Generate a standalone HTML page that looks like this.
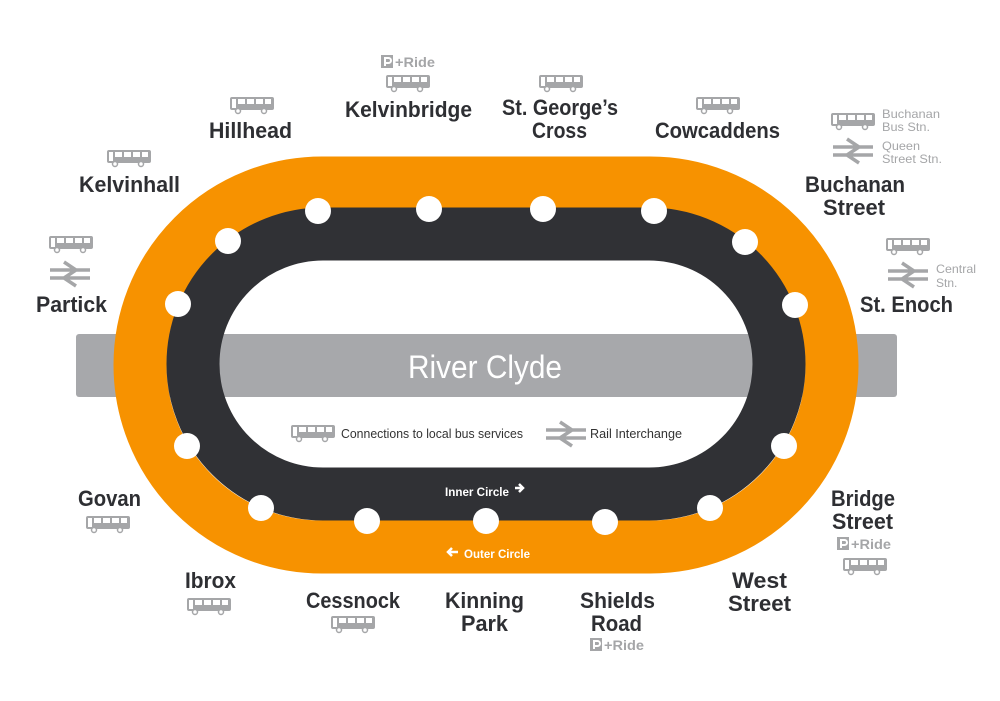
<!DOCTYPE html>
<html><head><meta charset="utf-8"><style>
html,body{margin:0;padding:0;background:#fff;}
svg{display:block;}
.l{font-family:"Liberation Sans",sans-serif;font-weight:bold;font-size:22px;fill:#2e2f33;text-anchor:middle;}
.g{font-family:"Liberation Sans",sans-serif;font-size:12px;fill:#a5a6a8;}
.pr{font-family:"Liberation Sans",sans-serif;font-size:14px;fill:#a5a6a8;font-weight:bold;}
</style></head><body>
<svg width="1000" height="701" viewBox="0 0 1000 701" xmlns="http://www.w3.org/2000/svg">
<defs>
<g id="bus">
<rect x="1" y="1" width="44" height="13" rx="2" fill="#a5a6a8"/>
<rect x="3" y="3" width="4" height="9" fill="#fff"/>
<rect x="9" y="3" width="7" height="5" fill="#fff"/>
<rect x="18" y="3" width="7" height="5" fill="#fff"/>
<rect x="27" y="3" width="7" height="5" fill="#fff"/>
<rect x="36" y="3" width="6" height="5" fill="#fff"/>
<circle cx="9" cy="15" r="2.5" fill="#fff" stroke="#a5a6a8" stroke-width="1.5"/>
<circle cx="35" cy="15" r="2.5" fill="#fff" stroke="#a5a6a8" stroke-width="1.5"/>
</g>
<g id="rail" fill="none" stroke="#a5a6a8" stroke-width="3.5">
<path d="M0 9 H40 M0 17 H40 M14 1 L26 9 L14 17 L26 25"/>
</g>
<g id="pr">
<rect x="0" y="0" width="12" height="13" fill="#a5a6a8"/>
<path d="M4 11 V3 H7.5 a2.5 2.5 0 0 1 0 5 H4" fill="none" stroke="#fff" stroke-width="2"/>
<text x="14" y="12" class="pr" textLength="40" lengthAdjust="spacingAndGlyphs">+Ride</text>
</g>
</defs>

<rect x="76" y="334" width="821" height="63" rx="3" fill="#a7a8ab"/>
<rect x="140" y="183" width="692" height="364" rx="182" fill="none" stroke="#f79200" stroke-width="53"/>
<rect x="193" y="234" width="586" height="260" rx="130" fill="none" stroke="#303135" stroke-width="53"/>

<text x="408" y="378" font-family="Liberation Sans, sans-serif" font-size="32" fill="#fff" textLength="154" lengthAdjust="spacingAndGlyphs">River Clyde</text>

<g fill="#fff">
<circle cx="318" cy="211" r="13"/><circle cx="429" cy="209" r="13"/><circle cx="543" cy="209" r="13"/><circle cx="654" cy="211" r="13"/>
<circle cx="745" cy="242" r="13"/><circle cx="795" cy="305" r="13"/><circle cx="784" cy="446" r="13"/><circle cx="710" cy="508" r="13"/>
<circle cx="605" cy="522" r="13"/><circle cx="486" cy="521" r="13"/><circle cx="367" cy="521" r="13"/><circle cx="261" cy="508" r="13"/>
<circle cx="187" cy="446" r="13"/><circle cx="178" cy="304" r="13"/><circle cx="228" cy="241" r="13"/>
</g>

<text x="445" y="496" font-family="Liberation Sans, sans-serif" font-weight="bold" font-size="12" fill="#fff" textLength="64" lengthAdjust="spacingAndGlyphs">Inner Circle</text>
<path d="M515 488 h8 M519 484 l4 4 l-4 4" stroke="#fff" stroke-width="2.5" fill="none"/>
<path d="M458 552 h-10 M452 548 l-4 4 l4 4" stroke="#fff" stroke-width="2.5" fill="none"/>
<text x="464" y="558" font-family="Liberation Sans, sans-serif" font-weight="bold" font-size="12" fill="#fff" textLength="66" lengthAdjust="spacingAndGlyphs">Outer Circle</text>

<use href="#bus" x="290" y="424"/>
<text x="341" y="438" font-family="Liberation Sans, sans-serif" font-size="13" fill="#333" textLength="182" lengthAdjust="spacingAndGlyphs">Connections to local bus services</text>
<use href="#rail" x="546" y="421"/>
<text x="590" y="438" font-family="Liberation Sans, sans-serif" font-size="13" fill="#333" textLength="92" lengthAdjust="spacingAndGlyphs">Rail Interchange</text>

<use href="#pr" x="381" y="55"/>
<use href="#bus" x="385" y="74"/>
<use href="#bus" x="229" y="96"/>
<use href="#bus" x="106" y="149"/>
<use href="#bus" x="48" y="235"/>
<use href="#rail" x="50" y="261"/>
<use href="#bus" x="538" y="74"/>
<use href="#bus" x="695" y="96"/>
<use href="#bus" x="830" y="112"/>
<use href="#rail" x="833" y="138"/>
<text x="882" y="118" class="g" textLength="58" lengthAdjust="spacingAndGlyphs">Buchanan</text>
<text x="882" y="131" class="g" textLength="48" lengthAdjust="spacingAndGlyphs">Bus Stn.</text>
<text x="882" y="150" class="g" textLength="38" lengthAdjust="spacingAndGlyphs">Queen</text>
<text x="882" y="163" class="g" textLength="60" lengthAdjust="spacingAndGlyphs">Street Stn.</text>
<use href="#bus" x="885" y="237"/>
<use href="#rail" x="888" y="262"/>
<text x="936" y="273" class="g" textLength="40" lengthAdjust="spacingAndGlyphs">Central</text>
<text x="936" y="287" class="g">Stn.</text>
<use href="#bus" x="85" y="515"/>
<use href="#bus" x="186" y="597"/>
<use href="#bus" x="330" y="615"/>
<use href="#pr" x="837" y="537"/>
<use href="#bus" x="842" y="557"/>
<use href="#pr" x="590" y="638"/>

<g class="l" style="text-anchor:start">
<text class="l" style="text-anchor:start" x="345" y="117" textLength="127" lengthAdjust="spacingAndGlyphs">Kelvinbridge</text>
<text class="l" style="text-anchor:start" x="209" y="138" textLength="83" lengthAdjust="spacingAndGlyphs">Hillhead</text>
<text class="l" style="text-anchor:start" x="79" y="192" textLength="101" lengthAdjust="spacingAndGlyphs">Kelvinhall</text>
<text class="l" style="text-anchor:start" x="36" y="312" textLength="71" lengthAdjust="spacingAndGlyphs">Partick</text>
<text class="l" style="text-anchor:start" x="502" y="115" textLength="116" lengthAdjust="spacingAndGlyphs">St. George’s</text>
<text class="l" style="text-anchor:start" x="532" y="138" textLength="55" lengthAdjust="spacingAndGlyphs">Cross</text>
<text class="l" style="text-anchor:start" x="655" y="138" textLength="125" lengthAdjust="spacingAndGlyphs">Cowcaddens</text>
<text class="l" style="text-anchor:start" x="805" y="192" textLength="100" lengthAdjust="spacingAndGlyphs">Buchanan</text>
<text class="l" style="text-anchor:start" x="823" y="215" textLength="62" lengthAdjust="spacingAndGlyphs">Street</text>
<text class="l" style="text-anchor:start" x="860" y="312" textLength="93" lengthAdjust="spacingAndGlyphs">St. Enoch</text>
<text class="l" style="text-anchor:start" x="78" y="506" textLength="63" lengthAdjust="spacingAndGlyphs">Govan</text>
<text class="l" style="text-anchor:start" x="831" y="506" textLength="64" lengthAdjust="spacingAndGlyphs">Bridge</text>
<text class="l" style="text-anchor:start" x="832" y="529" textLength="61" lengthAdjust="spacingAndGlyphs">Street</text>
<text class="l" style="text-anchor:start" x="185" y="588" textLength="51" lengthAdjust="spacingAndGlyphs">Ibrox</text>
<text class="l" style="text-anchor:start" x="306" y="608" textLength="94" lengthAdjust="spacingAndGlyphs">Cessnock</text>
<text class="l" style="text-anchor:start" x="445" y="608" textLength="79" lengthAdjust="spacingAndGlyphs">Kinning</text>
<text class="l" style="text-anchor:start" x="461" y="631" textLength="47" lengthAdjust="spacingAndGlyphs">Park</text>
<text class="l" style="text-anchor:start" x="580" y="608" textLength="75" lengthAdjust="spacingAndGlyphs">Shields</text>
<text class="l" style="text-anchor:start" x="591" y="631" textLength="51" lengthAdjust="spacingAndGlyphs">Road</text>
<text class="l" style="text-anchor:start" x="732" y="588" textLength="55" lengthAdjust="spacingAndGlyphs">West</text>
<text class="l" style="text-anchor:start" x="728" y="611" textLength="63" lengthAdjust="spacingAndGlyphs">Street</text>
</g>
</svg>
</body></html>
